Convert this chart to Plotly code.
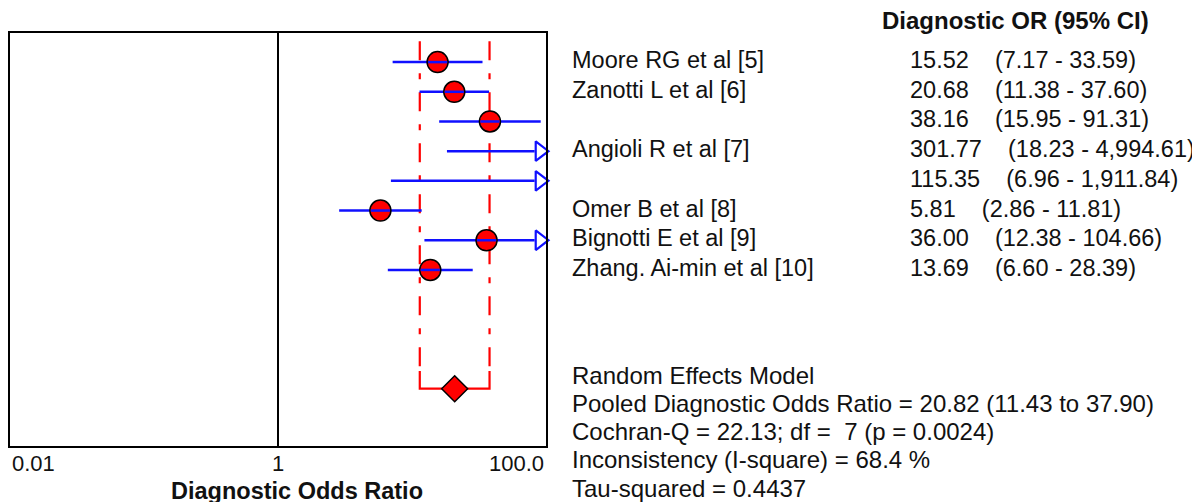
import plotly.graph_objects as go
import numpy as np

# ---------------- data ----------------
studies = ["Moore RG et al [5]", "Zanotti L et al [6]", "", "Angioli R et al [7]", "",
           "Omer B et al [8]", "Bignotti E et al [9]", "Zhang. Ai-min et al [10]"]
dor = [15.52, 20.68, 38.16, 301.77, 115.35, 5.81, 36.00, 13.69]
ci_low = [7.17, 11.38, 15.95, 18.23, 6.96, 2.86, 12.38, 6.60]
ci_high = [33.59, 37.60, 91.31, 4994.61, 1911.84, 11.81, 104.66, 28.39]

pooled = 20.82
pooled_low = 11.43
pooled_high = 37.90

tick_vals = [0.01, 1, 100]
tick_text = ["0.01", "1", "100.0"]

header = "Diagnostic OR (95% CI)"
x_title = "Diagnostic Odds Ratio"
stats_lines = [
    "Random Effects Model",
    "Pooled Diagnostic Odds Ratio = 20.82 (11.43 to 37.90)",
    "Cochran-Q = 22.13; df =  7 (p = 0.0024)",
    "Inconsistency (I-square) = 68.4 %",
    "Tau-squared = 0.4437",
]

# ---------------- layout helpers ----------------
W, H = 1200, 502
FONT = "Liberation Sans, Arial, sans-serif"
BLUE = "#1010ff"
RED = "#ff0000"
TXT = "#111111"

def px_x(p):
    return p / W

def px_y(p):
    return 1 - p / H

x_min_log, x_max_log = -2, 2
n = len(studies)
rows = list(range(n))
pooled_row = n + 3
y_range = [12.93, -0.98]

def fmt(v):
    return f"{v:,.2f}"

fig = go.Figure()

# pooled CI bracket (dash-dot verticals + solid bracket)
bracket_top = pooled_row - 0.6
for xv in (pooled_low, pooled_high):
    fig.add_trace(go.Scatter(
        x=[xv, xv], y=[-0.7, bracket_top], mode="lines",
        line=dict(color=RED, width=2.2, dash="19px,13px,6px,13px"),
        hoverinfo="skip", showlegend=False))
fig.add_trace(go.Scatter(
    x=[pooled_low, pooled_low, pooled_high, pooled_high],
    y=[bracket_top, pooled_row, pooled_row, bracket_top],
    mode="lines", line=dict(color=RED, width=2.2),
    hoverinfo="skip", showlegend=False))

# study CI lines
x_max = 10 ** x_max_log
arrow_x = 10 ** (x_max_log - 0.045)
line_end = 10 ** (x_max_log - 0.085)
for i in rows:
    hi = ci_high[i] if ci_high[i] <= x_max else line_end
    fig.add_trace(go.Scatter(
        x=[ci_low[i], hi], y=[i, i], mode="lines",
        line=dict(color=BLUE, width=2.5),
        hoverinfo="skip", showlegend=False))

# arrows for CIs beyond the axis
arr_rows = [i for i in rows if ci_high[i] > x_max]
fig.add_trace(go.Scatter(
    x=[arrow_x] * len(arr_rows), y=arr_rows, mode="markers",
    marker=dict(symbol="triangle-right-open", size=17, color=BLUE,
                line=dict(width=2.2, color=BLUE)),
    hoverinfo="skip", showlegend=False, cliponaxis=False))

# point estimates
fig.add_trace(go.Scatter(
    x=dor, y=rows, mode="markers",
    marker=dict(symbol="circle", size=21, color=RED,
                line=dict(color="black", width=1.5)),
    hoverinfo="skip", showlegend=False))
# blue line drawn over the markers (as in the reference)
for i in rows:
    if dor[i] <= x_max:
        fig.add_trace(go.Scatter(
            x=[dor[i] / 1.18, min(dor[i] * 1.18, line_end)], y=[i, i], mode="lines",
            line=dict(color=BLUE, width=2.5),
            hoverinfo="skip", showlegend=False))

# pooled diamond
fig.add_trace(go.Scatter(
    x=[pooled], y=[pooled_row], mode="markers",
    marker=dict(symbol="diamond", size=20, color=RED,
                line=dict(color="black", width=1.5)),
    hoverinfo="skip", showlegend=False))

x_dom = [px_x(2), px_x(538)]
y_dom = [px_y(438), px_y(25)]

# vertical line at 1
fig.add_shape(type="line", xref="x", yref="paper", x0=1, x1=1,
              y0=y_dom[0], y1=y_dom[1], line=dict(color="black", width=2))

annotations = []
# tick labels
anchors = ["left", "center", "right"]
for v, t, a in zip(tick_vals, tick_text, anchors):
    annotations.append(dict(x=np.log10(v), xref="x", y=px_y(455), yref="paper",
                            text=t, showarrow=False, xanchor=a, yanchor="middle",
                            font=dict(family=FONT, size=22, color=TXT)))
annotations.append(dict(x=px_x(289), xref="paper", y=px_y(483), yref="paper",
                        text=f"<b>{x_title}</b>", showarrow=False, xanchor="center",
                        yanchor="middle", font=dict(family=FONT, size=23.5, color=TXT)))
annotations.append(dict(x=px_x(872), xref="paper", y=px_y(13), yref="paper",
                        text=f"<b>{header}</b>", showarrow=False, xanchor="left",
                        yanchor="middle", font=dict(family=FONT, size=24, color=TXT)))
nb = "\u00a0"
for i in rows:
    if studies[i]:
        annotations.append(dict(x=px_x(562), xref="paper", y=i, yref="y",
                                text=studies[i], showarrow=False, xanchor="left",
                                yanchor="middle", yshift=2,
                                font=dict(family=FONT, size=23.5, color=TXT)))
    txt = f"{fmt(dor[i])}{nb*4}({fmt(ci_low[i])} - {fmt(ci_high[i])})"
    annotations.append(dict(x=px_x(900), xref="paper", y=i, yref="y",
                            text=txt, showarrow=False, xanchor="left",
                            yanchor="middle", yshift=2,
                            font=dict(family=FONT, size=23.5, color=TXT)))
for k, s in enumerate(stats_lines):
    annotations.append(dict(x=px_x(562), xref="paper", y=px_y(367 + k * 28.3), yref="paper",
                            text=s, showarrow=False, xanchor="left", yanchor="middle",
                            font=dict(family=FONT, size=24, color=TXT)))

fig.update_layout(
    width=W, height=H,
    margin=dict(l=0, r=0, t=0, b=0),
    paper_bgcolor="white", plot_bgcolor="white",
    xaxis=dict(type="log", range=[x_min_log, x_max_log], domain=x_dom,
               showgrid=False, zeroline=False, showticklabels=False, ticks="",
               showline=True, mirror=True, linecolor="black", linewidth=2),
    yaxis=dict(range=y_range, domain=y_dom, showgrid=False, zeroline=False,
               showticklabels=False, ticks="",
               showline=True, mirror=True, linecolor="black", linewidth=2),
    annotations=annotations,
)

fig.write_html("out.html")
